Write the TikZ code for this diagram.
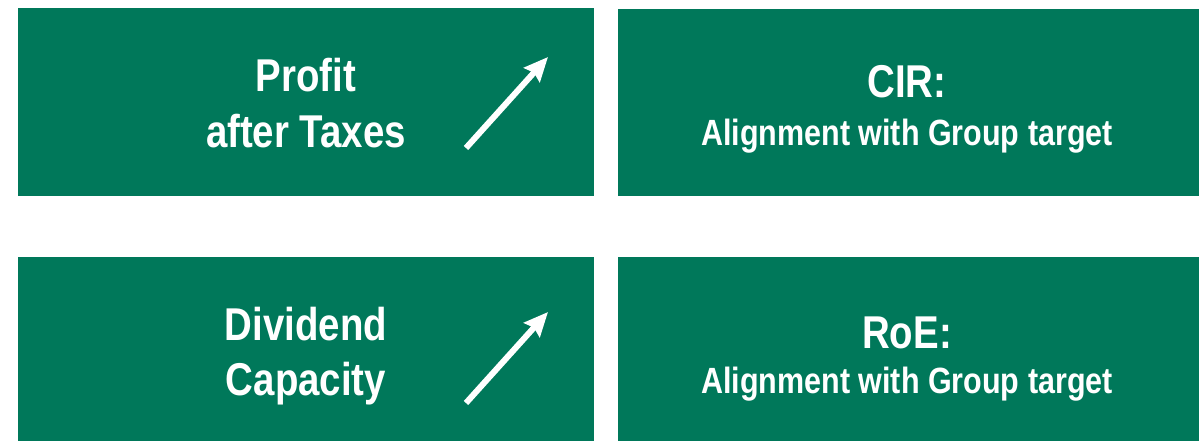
\documentclass[tikz,border=0pt]{standalone}
\usepackage{fontspec}
\newfontfamily\nar{Liberation Sans}[FakeStretch=0.835]
\usetikzlibrary{arrows.meta}
\definecolor{boxgreen}{RGB}{0,120,90}
\begin{document}
\begin{tikzpicture}[x=1pt,y=-1pt,
  panel/.style={fill=boxgreen, draw=none, inner sep=0pt, outer sep=0pt, anchor=north west},
  big/.style={text=white, font=\nar\bfseries\fontsize{46}{55}\selectfont, anchor=base, inner sep=0pt},
  small/.style={text=white, font=\nar\bfseries\fontsize{36.5}{40}\selectfont, anchor=base, inner sep=0pt},
  uparrow/.style={white, line width=6pt, -{Stealth[length=24pt,width=21pt,inset=3pt]}}]
\useasboundingbox (0,0) rectangle (1199,441);
\node[panel, minimum width=576pt, minimum height=188pt] (pat) at (18,8) {};
\node[panel, minimum width=581pt, minimum height=187pt] (cir) at (618,9) {};
\node[panel, minimum width=576pt, minimum height=184pt] (div) at (18,257) {};
\node[panel, minimum width=581pt, minimum height=184pt] (roe) at (618,257) {};
% texts
\node[big] (t1) at (306,92) {Profit};
\node[big] (t2) at (306,148) {after Taxes};
\node[big] (t3) at (907,98) {CIR:};
\node[small] (t4) at (907,146) {Alignment with Group target};
\node[big] (t5) at (306,340) {Dividend};
\node[big] (t6) at (306,395) {Capacity};
\node[big] (t7) at (907,348) {RoE:};
\node[small] (t8) at (907,393) {Alignment with Group target};
% arrows
\coordinate (a1s) at (466,148);
\coordinate (a1e) at (548,57);
\coordinate (a2s) at (466,403);
\coordinate (a2e) at (548,312);
\draw[uparrow] (a1s) -- (a1e);
\draw[uparrow] (a2s) -- (a2e);
\end{tikzpicture}
\end{document}
